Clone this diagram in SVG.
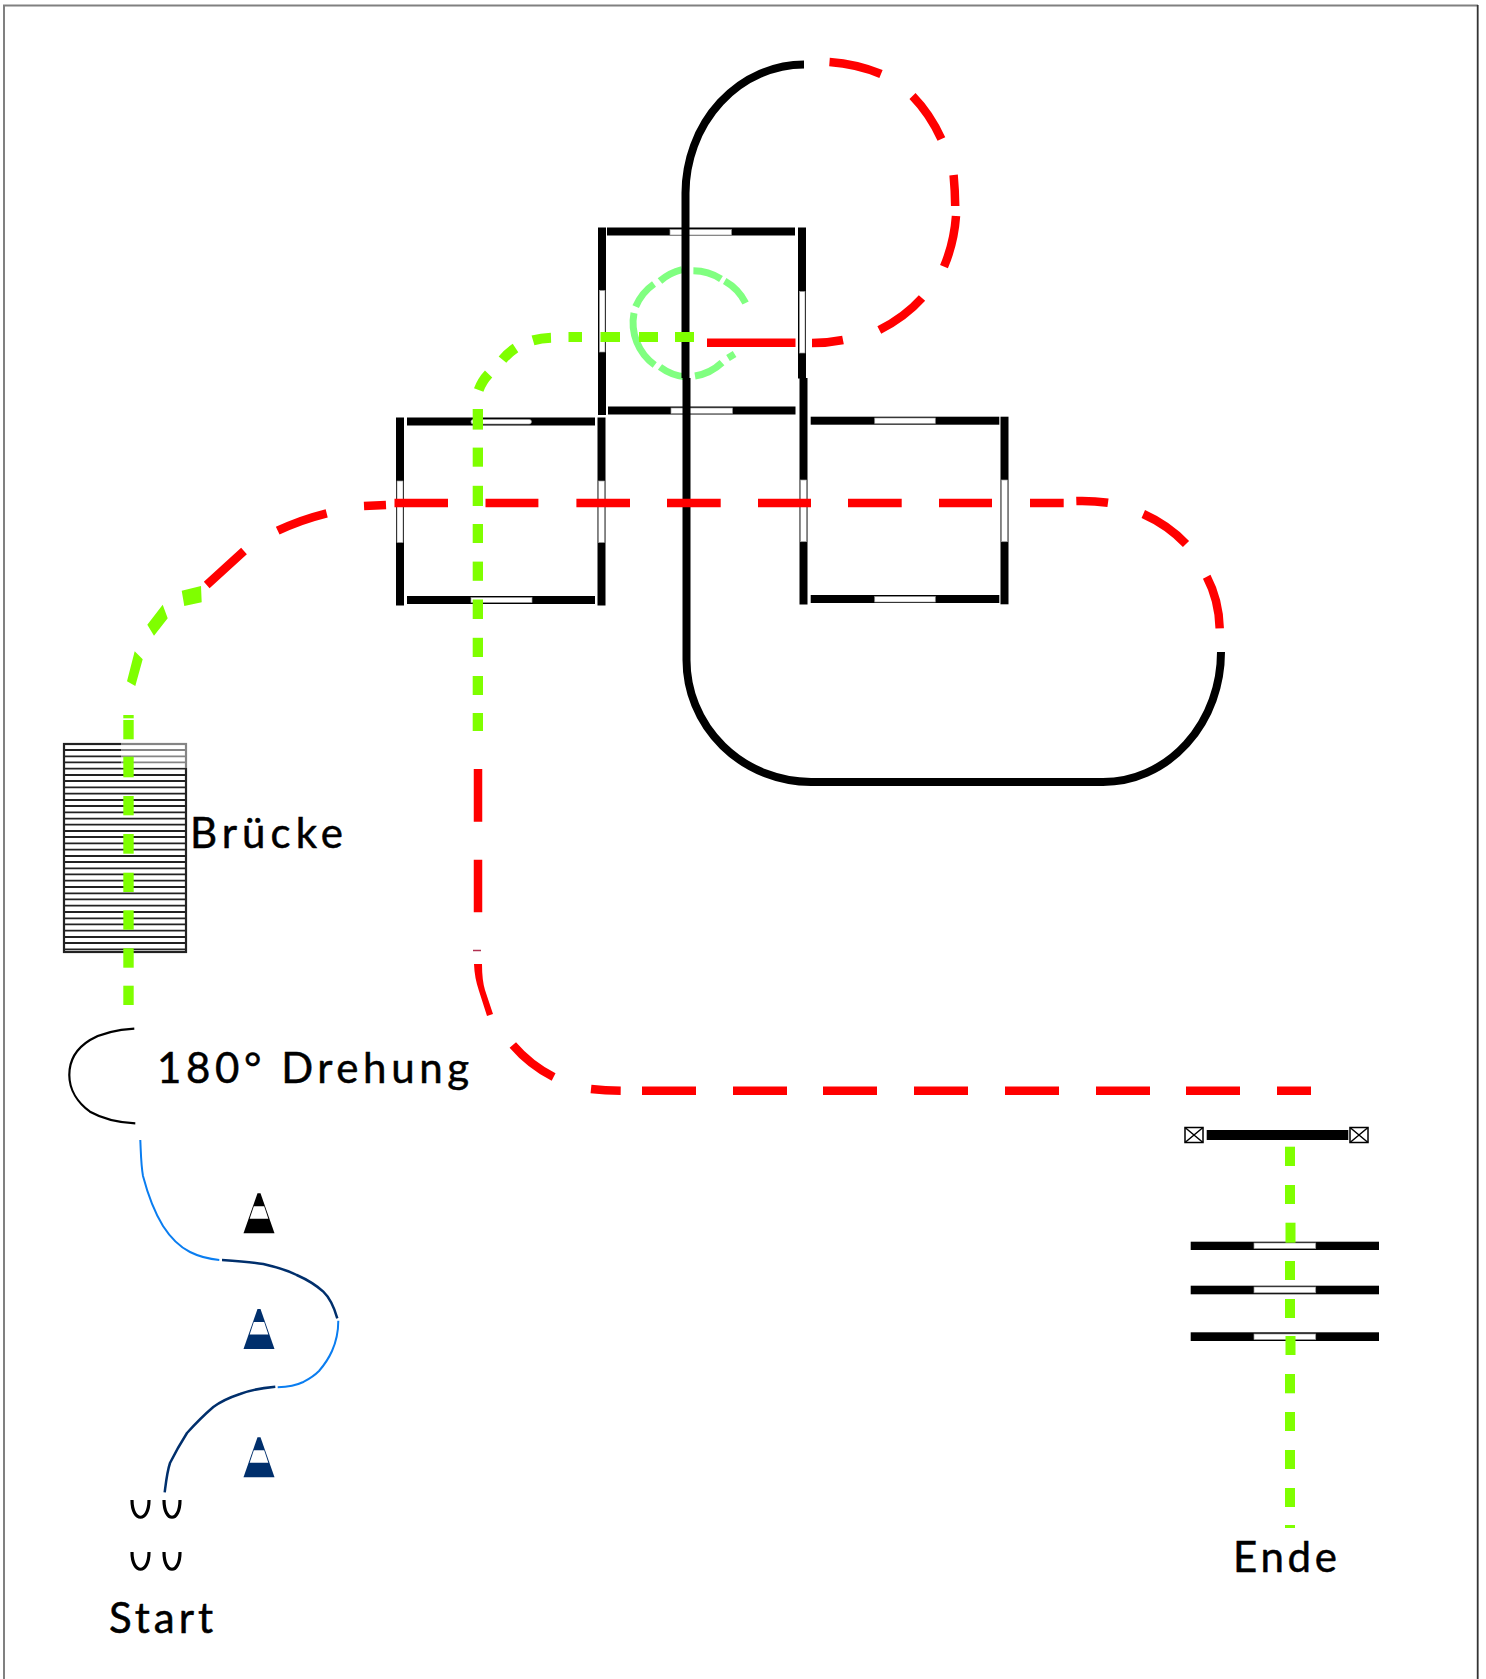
<svg xmlns="http://www.w3.org/2000/svg" xmlns:xlink="http://www.w3.org/1999/xlink" width="1486" height="1679" viewBox="0 0 1486 1679">
<style>
.t{font-family:Lato,"Liberation Sans",sans-serif;font-size:42px;fill:#000;stroke:#000;stroke-width:.5}
.wall{fill:#000}
.gap{fill:#fff;stroke:#999;stroke-width:.7}
.red{fill:none;stroke:#f00;stroke-width:8.500}
.grn{fill:#7fff00}
.lg{fill:none;stroke:#80ff80;stroke-width:7}
.blk{fill:none;stroke:#000;stroke-width:8}
.lb{fill:none;stroke:#0a7df0;stroke-width:2}
.db{fill:none;stroke:#002f6c;stroke-width:2.500}
.foot{fill:none;stroke:#000;stroke-width:3.200}
.br{stroke:#222;stroke-width:1.800}
</style>
<defs>
<g id="cone"><path d="M-1.5 0H1.5L15.5 40H-15.5Z" fill="currentColor"/><path d="M-5.2 13H5.2L9.3 25.5H-9.3Z" fill="#fff"/></g>
</defs>
<rect width="1486" height="1679" fill="#fff"/>
<g id="frame"><path d="M4 1679V5.5H1478" fill="none" stroke="#808080" stroke-width="2"/><path d="M1477.7 5V1679" fill="none" stroke="#333" stroke-width="1.8"/></g>

<g id="room-top">
<rect class="wall" x="598" y="227.5" width="8" height="187.5"/><rect class="gap" x="599.5" y="290.5" width="5.5" height="61.5"/>
<rect class="wall" x="798" y="227.5" width="8" height="151"/><rect class="gap" x="799.5" y="291.5" width="5.5" height="61.5"/>
<rect class="wall" x="607" y="227.5" width="188" height="8"/><rect class="gap" x="670" y="229.5" width="61.5" height="5.5"/>
<rect class="wall" x="608" y="406.5" width="187.5" height="8"/><rect class="gap" x="671" y="408" width="61.5" height="5.5"/>
</g>
<g id="room-left">
<rect class="wall" x="396" y="417.5" width="8" height="188"/><rect class="gap" x="397" y="481" width="6" height="61.500"/>
<rect class="wall" x="597.500" y="417.5" width="8" height="188"/><rect class="gap" x="598.500" y="481" width="6" height="61.500"/>
<rect class="wall" x="407" y="417.500" width="188" height="8"/><rect class="gap" x="471" y="419.500" width="60.500" height="4.500" rx="2.200"/>
<rect class="wall" x="407" y="596" width="188" height="8"/><rect class="gap" x="471" y="597.500" width="61" height="5"/>
</g>
<g id="room-right">
<rect class="wall" x="799.500" y="378" width="8" height="226.500"/><rect class="gap" x="800.500" y="480" width="6" height="61.700"/>
<rect class="wall" x="1000.500" y="416.700" width="8" height="187.600"/><rect class="gap" x="1001.500" y="480" width="6" height="61.700"/>
<rect class="wall" x="810.700" y="416.700" width="188.600" height="8"/><rect class="gap" x="874.700" y="418" width="60.600" height="5.500"/>
<rect class="wall" x="810.700" y="595" width="188.600" height="8"/><rect class="gap" x="874.700" y="596.500" width="60.600" height="5.500"/>
</g>
<g id="bridge">
<rect x="64" y="744" width="122" height="208" fill="#fff" stroke="#222" stroke-width="2.200"/>
<path class="br" d="M64 750H186M64 756.300H186M64 762.300H186M64 768.700H186M64 775H186M64 781H186M64 787.300H186M64 793.700H186M64 800H186M64 806H186M64 812.300H186M64 818.700H186M64 824.700H186M64 831H186M64 837H186M64 843.300H186M64 849.700H186M64 856H186M64 862H186M64 868.300H186M64 874.300H186M64 880.700H186M64 887H186M64 893.300H186M64 899.300H186M64 905.700H186M64 912H186M64 918.300H186M64 924.300H186M64 930.700H186M64 937H186M64 943H186M64 949.300H186"/>
<rect x="121" y="741" width="67" height="27" fill="#fff" opacity=".45"/>
</g>
<g id="gate-end">
<rect class="wall" x="1206.700" y="1130" width="141.600" height="10"/>
<g fill="#fff" stroke="#000" stroke-width="1.500"><rect x="1185" y="1127.500" width="18" height="15"/><path d="M1185 1127.500L1203 1142.500M1203 1127.500L1185 1142.500"/><rect x="1350" y="1127.500" width="18" height="15"/><path d="M1350 1127.500L1368 1142.500M1368 1127.500L1350 1142.500"/></g>
</g>
<g id="gate-1"><rect class="wall" x="1190.700" y="1241.700" width="188.300" height="8.300"/><rect class="gap" x="1254" y="1243" width="61.700" height="5.500"/></g>
<g id="gate-2"><rect class="wall" x="1190.700" y="1285.700" width="188.300" height="8.600"/><rect class="gap" x="1254" y="1287" width="61.700" height="5.800"/></g>
<g id="gate-3"><rect class="wall" x="1190.700" y="1332.300" width="188.300" height="8.700"/><rect class="gap" x="1254" y="1334" width="61.700" height="5.500"/></g>
<g id="cones"><use xlink:href="#cone" href="#cone" x="259" y="1193.300" color="#000"/><use xlink:href="#cone" href="#cone" x="259" y="1309" color="#002f6c"/><use xlink:href="#cone" href="#cone" x="259" y="1437.300" color="#002f6c"/></g>
<g id="feet">
<path class="foot" d="M132 1500C132 1523 149 1523 149 1500M164 1500C164 1523 180 1523 180 1500M132 1552C132 1575 149 1575 149 1552M164 1552C164 1575 180 1575 180 1552"/>
</g>

<g id="connectors">
<g id="circle-light">
<path class="lg" d="M745.600 303A52 52 0 0 0 724.700 281M721 279A52 52 0 0 0 693.400 270.800M682 269.600A52 52 0 0 0 660 281M654 284A52 52 0 0 0 635.700 306.700M634 313A52 52 0 0 0 654.700 365M660 367A52 52 0 0 0 686 377M695 376A52 52 0 0 0 722 362.600M728 358L734.600 354"/>
</g>
<path class="blk" d="M804 64.500A119 129 0 0 0 685.500 193V378M686.500 378V660A125 122 0 0 0 811 782H1103A118 130 0 0 0 1221 652"/>
<g id="red-top">
<path class="red" d="M829.500 62Q857 64 881 74M912.500 96Q930 114 941.400 139M953.600 175Q955 190 955.200 206M956 216Q954 243 944 266.600M922 298Q905 317 879.300 330M843 340Q828 343 812 343M795.500 342.700H707"/>
</g>
<path class="red" d="M394.500 503H448M485.500 503H538.400M576.400 503H630M667 503H720.700M758 503H811M848 503H901.700M939 503H992M1030 503H1063.700M1076.300 501Q1092 500.500 1108 502.700M1143.300 514Q1168 525 1186 544M1206.700 576.700Q1219 600 1219.700 628.300M364 506L386 505M277.700 530.700Q300 520 326.700 513.300M206.700 585L244 551"/>
<path class="red" d="M478 769V821.700M478 859.700V912.300M512.800 1045Q530 1065 553.600 1077M591 1089Q605 1090.500 620.700 1090.700M642 1090.700H696M733 1090.700H787M823 1090.700H877M914 1090.700H968M1005 1090.700H1059M1096 1090.700H1150M1186 1090.700H1240M1277 1090.700H1311"/>
<path d="M473 950.500H481" stroke="#b03050" stroke-width="1.500" fill="none"/>
<path d="M474 964H482Q482 980 485 990L493 1014L487 1016L479 991Q474.500 978 474 964Z" fill="#f00"/>
<g id="green-left" class="grn">
<path d="M181.700 590.700L201 586L201.700 602.300L184.300 606ZM162.700 604.700L167.700 618.300L154 635.700L147.300 624.700ZM134.700 651.300L142.700 659.300L135.300 686L127 681.300Z"/>
<rect x="123.300" y="715" width="10.400" height="3.300"/><rect x="123.300" y="720" width="10.400" height="19.300"/><rect x="123.300" y="756.700" width="10.400" height="20.600"/><rect x="123.300" y="796" width="10.400" height="19.300"/><rect x="123.300" y="834" width="10.400" height="19.700"/><rect x="123.300" y="872.700" width="10.400" height="19.300"/><rect x="123.300" y="910.300" width="10.400" height="19.400"/><rect x="123.300" y="948.300" width="10.400" height="19.400"/><rect x="123.300" y="985.700" width="10.400" height="19.300"/>
</g>
<g id="green-mid" class="grn">
<rect x="472.700" y="409" width="10.300" height="20.600"/><rect x="472.700" y="447.600" width="10.300" height="19.100"/><rect x="472.700" y="485.800" width="10.300" height="20.200"/><rect x="472.700" y="524" width="10.300" height="19"/><rect x="472.700" y="561.600" width="10.300" height="19.200"/><rect x="472.700" y="599.500" width="10.300" height="19.500"/><rect x="472.700" y="637.800" width="10.300" height="19.200"/><rect x="472.700" y="676" width="10.300" height="19"/><rect x="472.700" y="713" width="10.300" height="18"/>
<path d="M478.700 390Q482 381 488.600 374M502.500 359.600Q508 353 515.500 348M533 340.400Q541 338 551 337.700" fill="none" stroke="#7fff00" stroke-width="10"/>
<rect x="568.500" y="332" width="13.500" height="10"/><rect x="600.500" y="332" width="19.500" height="10"/><rect x="639" y="332" width="19" height="10"/><rect x="675" y="332" width="19" height="10"/>
</g>
<g id="green-end" class="grn">
<rect x="1285" y="1146.700" width="10" height="19.300"/><rect x="1285" y="1185" width="10" height="19"/><rect x="1285.500" y="1222.700" width="10" height="20"/><rect x="1285" y="1261" width="10" height="19"/><rect x="1285" y="1299" width="10" height="19"/><rect x="1285.500" y="1336" width="10" height="19"/><rect x="1285" y="1374" width="10" height="19.300"/><rect x="1285" y="1412" width="10" height="19"/><rect x="1285" y="1450" width="10" height="19"/><rect x="1285" y="1488" width="10" height="19"/><rect x="1285" y="1525" width="10" height="3"/>
</g>
<path fill="none" stroke="#000" stroke-width="2.200" d="M134.300 1028.700C112 1030 97 1036 90 1040C77 1048 69.300 1060 69.300 1075C69.300 1090 78 1103 90 1111.700C103 1119 118 1122.500 135.300 1123.300"/>
<path class="lb" d="M140.300 1140C141 1155 141 1165 143 1176C148 1195 155 1213 163 1226C172 1240 180 1247 190 1252C200 1257 208 1259 219.300 1260"/>
<path class="db" d="M222 1260C238 1261 252 1262 263.300 1264C276 1267 287 1270 296.700 1275C308 1280 316 1285 323.300 1291.700C330 1298 334 1307 337.300 1318.300"/>
<path class="lb" d="M338.300 1320.700C338.300 1330 336 1342 332 1351C328 1360 325 1364 319 1371C313 1377 309 1379 303.300 1382C295 1386 287 1387 277.700 1387.300"/>
<path class="db" d="M275.300 1386.700C262 1388 250 1390 240 1394C228 1398 220 1402 213.300 1407C204 1415 196 1423 187 1433C180 1444 174 1455 170 1463C167 1472 166 1482 164.700 1492.300"/>
</g>
<g id="labels">
<text class="t" x="190" y="848" textLength="153" lengthAdjust="spacing">Brücke</text>
<text class="t" x="157" y="1083" textLength="312" lengthAdjust="spacing">180° Drehung</text>
<text class="t" x="109" y="1633" textLength="104" lengthAdjust="spacing">Start</text>
<text class="t" x="1233" y="1572" textLength="104" lengthAdjust="spacing">Ende</text>
</g>
</svg>
